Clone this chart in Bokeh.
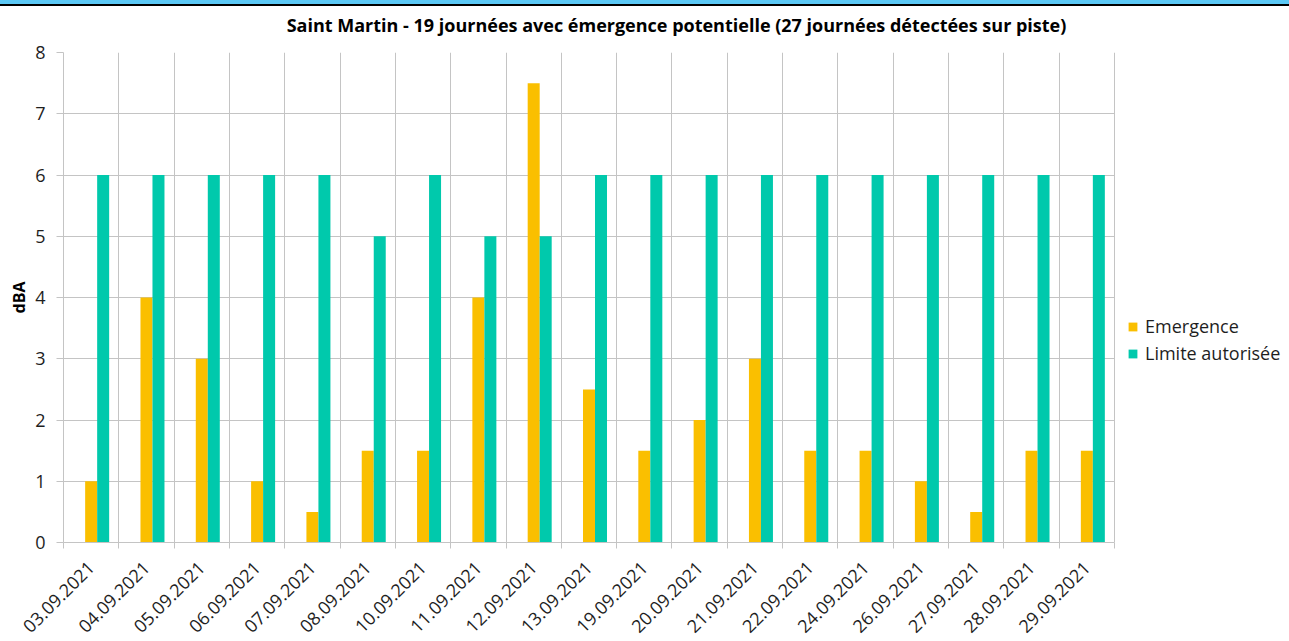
import math
from bokeh.plotting import figure
from bokeh.layouts import column
from bokeh.models import (Range1d, FixedTicker, Legend, LegendItem, LinearAxis,
                          ColumnDataSource, Div)
from bokeh.embed import file_html
from bokeh.resources import INLINE

dates = ["03.09.2021", "04.09.2021", "05.09.2021", "06.09.2021", "07.09.2021",
         "08.09.2021", "10.09.2021", "11.09.2021", "12.09.2021", "13.09.2021",
         "19.09.2021", "20.09.2021", "21.09.2021", "22.09.2021", "24.09.2021",
         "26.09.2021", "27.09.2021", "28.09.2021", "29.09.2021"]
emergence = [1, 4, 3, 1, 0.5, 1.5, 1.5, 4, 7.5, 2.5, 1.5, 2, 3, 1.5, 1.5, 1, 0.5, 1.5, 1.5]
limite = [6, 6, 6, 6, 6, 5, 6, 5, 5, 6, 6, 6, 6, 6, 6, 6, 6, 6, 6]
y_ticks = [0, 1, 2, 3, 4, 5, 6, 7, 8]

title_text = "Saint Martin - 19 journées avec émergence potentielle (27 journées détectées sur piste)"

ORANGE = "#FABF00"
GREEN = "#00C9AC"
GRID = "#C4C4C4"
FONT = "Open Sans"

TOTAL_W, TOTAL_H = 1289, 641
BAND = 6
W, H = TOTAL_W, TOTAL_H - BAND
FRAME_LEFT, FRAME_RIGHT_BARS, FRAME_TOP, FRAME_BOTTOM = 63, 1114, 52, 543
TITLE_CX = 648
ML, MR, MT = FRAME_LEFT, 0, FRAME_TOP - BAND
MB = H - MT - (FRAME_BOTTOM - FRAME_TOP)
FW = W - ML - MR

n = len(dates)
cat_px = (FRAME_RIGHT_BARS - FRAME_LEFT) / n
x_end = FW / cat_px
title_mid = (TITLE_CX - FRAME_LEFT) / cat_px

centers = [i + 0.5 for i in range(n)]
bounds_ticks = list(range(0, n + 1))

bw = 0.217
src = ColumnDataSource(dict(x=centers, xg=[c + bw for c in centers],
                            em=emergence, lim=limite))

p = figure(width=W, height=H,
           x_range=Range1d(0, x_end),
           y_range=Range1d(0, 8),
           output_backend="svg", toolbar_location=None,
           min_border_left=ML, min_border_right=MR,
           min_border_top=MT, min_border_bottom=MB)
p.outline_line_color = None
p.background_fill_color = "white"
p.border_fill_color = "white"
p.title.visible = False

# title carried by an axis above the plot
title_axis = LinearAxis(ticker=FixedTicker(ticks=[]), bounds=(0, 2 * title_mid),
                        axis_line_color=None, major_tick_line_color=None,
                        minor_tick_line_color=None, major_tick_out=0,
                        major_tick_in=0, major_label_text_font_size="0px",
                        major_label_standoff=0,
                        axis_label=title_text, axis_label_text_font=FONT,
                        axis_label_text_font_size="18px",
                        axis_label_text_font_style="bold",
                        axis_label_text_color="#000000",
                        axis_label_standoff=16)
p.add_layout(title_axis, "above")

r1 = p.vbar(x="x", top="em", width=bw, source=src,
            fill_color=ORANGE, line_color=None)
r2 = p.vbar(x="xg", top="lim", width=bw, source=src,
            fill_color=GREEN, line_color=None)

# grids
p.xgrid.ticker = FixedTicker(ticks=bounds_ticks)
p.xgrid.grid_line_color = GRID
p.ygrid.grid_line_color = GRID
p.ygrid.ticker = FixedTicker(ticks=y_ticks)
p.ygrid.cross_bounds = (0, n)

# x axis
xa = p.below[0]
xa.ticker = FixedTicker(ticks=centers, minor_ticks=bounds_ticks)
xa.major_label_overrides = {c: d for c, d in zip(centers, dates)}
xa.bounds = (0, n)
xa.axis_line_color = GRID
xa.major_tick_line_color = None
xa.major_tick_out = 0
xa.major_tick_in = 0
xa.minor_tick_line_color = GRID
xa.minor_tick_out = 6
xa.minor_tick_in = 0
xa.major_label_orientation = math.pi / 4
xa.major_label_text_font = FONT
xa.major_label_text_font_size = "18px"
xa.major_label_text_color = "#1e1e1e"
xa.major_label_standoff = 16

# y axis
ya = p.left[0]
ya.ticker = FixedTicker(ticks=y_ticks)
ya.axis_line_color = GRID
ya.major_tick_line_color = GRID
ya.major_tick_out = 7
ya.major_tick_in = 0
ya.minor_tick_line_color = None
ya.major_label_text_font = FONT
ya.major_label_text_font_size = "18px"
ya.major_label_text_color = "#1e1e1e"
ya.major_label_standoff = 11
ya.axis_label = "dBA"
ya.axis_label_text_font = FONT
ya.axis_label_text_font_size = "16px"
ya.axis_label_text_font_style = "bold"
ya.axis_label_text_color = "#000000"
ya.axis_label_standoff = 2

legend = Legend(items=[LegendItem(label="Emergence", renderers=[r1]),
                       LegendItem(label="Limite autorisée", renderers=[r2])],
                location=(1127 - FRAME_LEFT, FRAME_BOTTOM - 366),
                glyph_width=11, glyph_height=11, label_standoff=7, spacing=3,
                padding=0, margin=0, border_line_color=None,
                background_fill_alpha=0, label_text_font=FONT,
                label_text_font_size="18px", label_height=20,
                label_text_color="#1e1e1e")
p.add_layout(legend, "center")

band_blue = Div(width=TOTAL_W, height=4, margin=0,
                styles={"background-color": "#5BC8F5"})
band_black = Div(width=TOTAL_W, height=2, margin=0,
                 styles={"background-color": "#000000"})

layout = column(band_blue, band_black, p, spacing=0)
open("out.html", "w").write(file_html(layout, INLINE))
